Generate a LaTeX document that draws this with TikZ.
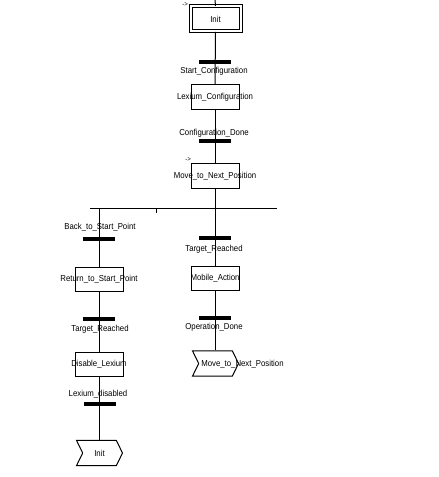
\documentclass[tikz,border=0pt]{standalone}
\usepackage{fontspec}
\setmainfont[FakeStretch=0.9]{Liberation Sans}
\usetikzlibrary{positioning,shapes.symbols}
\definecolor{cLine}{HTML}{000000}
\tikzset{
  link/.style    = {cLine, line width=0.75pt},
  stepbox/.style = {draw=cLine, line width=0.75pt, minimum width=36pt,
                    minimum height=18.5pt, inner sep=0pt,
                    execute at begin node={\hbox to 0pt\bgroup\hss},
                    execute at end node={\hss\egroup}},
  initbox/.style = {stepbox, double, double distance=1.5pt,
                    minimum width=37.5pt, minimum height=18.75pt},
  trans/.style   = {fill=cLine, minimum width=24pt, minimum height=3pt,
                    inner sep=0pt},
  tlabel/.style  = {font=\fontsize{6.5}{7}\selectfont, inner sep=0pt},
  jumpbox/.style = {draw=cLine, line width=0.75pt, signal, signal from=west,
                    signal to=east, signal pointer angle=128,
                    minimum width=34.5pt, minimum height=19pt, inner sep=0pt},
  jumpmark/.style= {font=\fontsize{5}{5}\selectfont, inner sep=0pt},
}
\begin{document}
\begin{tikzpicture}[x=0.75pt, y=-0.75pt, font=\fontsize{6.5}{7}\selectfont]
  \useasboundingbox (0,0) rectangle (438,477);
  % main sequence
  \coordinate (top) at (215,0);
  \node[initbox] (init) at (215.5,19) {Init};
  \node[jumpmark] (markA) at (185,4.5) {-{}>};
  \node[trans] (t1) at (215,62) {};
  \node[tlabel] (t1lab) at (214,71) {Start\_Configuration};
  \node[stepbox] (lexcfg) at (215,97) {Lexium\_Configuration};
  \node[tlabel] (t2lab) at (214,133) {Configuration\_Done};
  \node[trans] (t2) at (215,141) {};
  \node[stepbox] (move) at (215,176) {Move\_to\_Next\_Position};
  \node[jumpmark] (markB) at (188,160) {-{}>};
  \draw[link] (top) -- (init.north);
  \draw[link] (init.south) -- (lexcfg.north);
  \draw[link] (lexcfg.south) -- (move.north);
  % selection of sequences
  \coordinate (divL) at (90,208);
  \coordinate (divR) at (277,208);
  \coordinate (tick) at (156,208);
  \draw[link] (divL) -- (divR);
  \draw[link] (tick) -- ++(0,5);
  % left branch
  \node[tlabel] (t3lab) at (100,227) {Back\_to\_Start\_Point};
  \node[trans] (t3) at (99,239) {};
  \node[stepbox] (ret) at (99,279.5) {Return\_to\_Start\_Point};
  \node[trans] (t4) at (99,319) {};
  \node[tlabel] (t4lab) at (100,329) {Target\_Reached};
  \node[stepbox] (dis) at (99,364.5) {Disable\_Lexium};
  \node[tlabel] (t5lab) at (98,394) {Lexium\_disabled};
  \node[trans] (t5) at (100,404) {};
  \node[jumpbox] (jumpA) at (99.5,453) {Init};
  \draw[link] (divL -| ret.north) -- (ret.north);
  \draw[link] (ret.south) -- (dis.north);
  \draw[link] (dis.south) -- (dis.south |- jumpA.north);
  % right branch
  \node[trans] (t6) at (215,238) {};
  \node[tlabel] (t6lab) at (214,249) {Target\_Reached};
  \node[stepbox] (mobile) at (215,278.5) {Mobile\_Action};
  \node[trans] (t7) at (215,318) {};
  \node[tlabel] (t7lab) at (214,327) {Operation\_Done};
  \node[jumpbox] (jumpB) at (215.5,363.5) {};
  \node[tlabel, anchor=west] (jumpBlab) at (201,364) {Move\_to\_Next\_Position};
  \draw[link] (move.south) -- (mobile.north);
  \draw[link] (mobile.south) -- (mobile.south |- jumpB.north);
\end{tikzpicture}
\end{document}
